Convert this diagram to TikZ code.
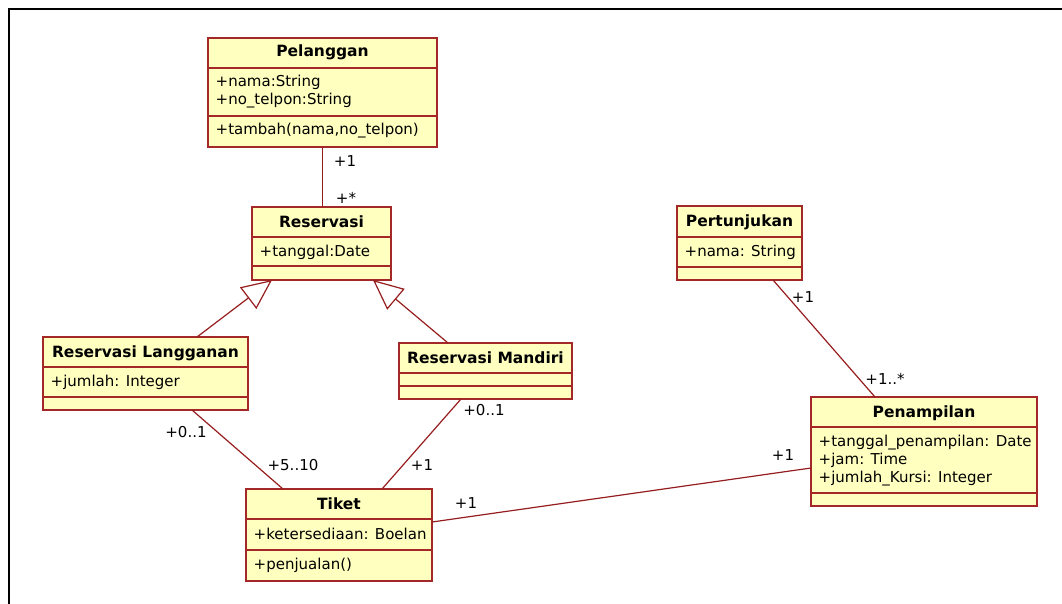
\documentclass[tikz,border=0pt]{standalone}
\usepackage{fontspec}
\setmainfont{DejaVu Sans}
\usetikzlibrary{arrows.meta}

\definecolor{boxfill}{RGB}{255,255,192}
\definecolor{boxedge}{RGB}{165,40,40}
\definecolor{linkred}{RGB}{150,30,30}

\tikzset{
  classbox/.style={draw=boxedge, fill=boxfill, line width=1.8pt, inner sep=0pt, outer sep=0pt},
  divider/.style={draw=boxedge, line width=1.5pt},
  ctitle/.style={font=\fontsize{15.5}{18}\selectfont\bfseries, anchor=base, inner sep=0pt},
  member/.style={font=\fontsize{15}{18}\selectfont, anchor=base west, inner sep=0pt},
  mult/.style={font=\fontsize{15}{18}\selectfont, inner sep=0pt},
  assoc/.style={draw=linkred, line width=1.2pt},
  generalize/.style={assoc, -{Triangle[length=30pt, width=27pt, fill=white]}},
  frameline/.style={draw=black, line width=2.8pt},
}

% a class rectangle: name, left, top, right, bottom
\newcommand{\umlclass}[5]{%
  \node[classbox, minimum width={(#4-#2)*1pt}, minimum height={(#5-#3)*1pt}]
    (#1) at ({(#2+#4)/2},{(#3+#5)/2}) {};}
% a compartment divider across a class: name, y
\newcommand{\umldiv}[2]{\draw[divider] (#1.west |- 0,#2) -- (#1.east |- 0,#2);}

\begin{document}
\begin{tikzpicture}[x=1pt, y=-1pt]
\useasboundingbox (0,0) rectangle (1062,604);
\fill[white] (0,0) rectangle (1062,604);

% window frame
\draw[frameline] (1062,9) -- (9,9) -- (9,604);

% Pelanggan
\umlclass{pel}{208}{38}{437}{147}
\umldiv{pel}{68}
\umldiv{pel}{116}
\node[ctitle] (pel-t) at (322.5,57) {Pelanggan};
\node[member] (pel-a1) at (215.5,87) {+nama:String};
\node[member] (pel-a2) at (215.5,105) {+no\_telpon:String};
\node[member] (pel-o1) at (215.5,135) {+tambah(nama,no\_telpon)};

% Reservasi
\umlclass{res}{252}{207}{391}{280}
\umldiv{res}{237}
\umldiv{res}{266}
\node[ctitle] (res-t) at (321.5,227) {Reservasi};
\node[member] (res-a1) at (259.5,256) {+tanggal:Date};

% Reservasi Langganan
\umlclass{rl}{43}{337}{248}{410}
\umldiv{rl}{367}
\umldiv{rl}{397}
\node[ctitle] (rl-t) at (145.5,357) {Reservasi Langganan};
\node[member] (rl-a1) at (50.5,386) {+jumlah: Integer};

% Reservasi Mandiri
\umlclass{rm}{399}{343}{572}{399}
\umldiv{rm}{373}
\umldiv{rm}{386}
\node[ctitle] (rm-t) at (485.5,363) {Reservasi Mandiri};

% Tiket
\umlclass{tik}{246}{489}{432}{581}
\umldiv{tik}{519}
\umldiv{tik}{550}
\node[ctitle] (tik-t) at (339,509) {Tiket};
\node[member] (tik-a1) at (253.5,539) {+ketersediaan: Boelan};
\node[member] (tik-o1) at (253.5,569) {+penjualan()};

% Pertunjukan
\umlclass{pert}{677}{206}{802}{280}
\umldiv{pert}{237}
\umldiv{pert}{267}
\node[ctitle] (pert-t) at (739.5,226) {Pertunjukan};
\node[member] (pert-a1) at (684.5,256) {+nama: String};

% Penampilan
\umlclass{pen}{811}{397}{1037}{506}
\umldiv{pen}{427}
\umldiv{pen}{493}
\node[ctitle] (pen-t) at (924,417) {Penampilan};
\node[member] (pen-a1) at (818.5,446) {+tanggal\_penampilan: Date};
\node[member] (pen-a2) at (818.5,464) {+jam: Time};
\node[member] (pen-a3) at (818.5,482) {+jumlah\_Kursi: Integer};

% associations
\draw[assoc] (pel.south) -- (pel.south |- res.north);
\draw[assoc] ([xshift=149pt]rl.south west) -- ([xshift=37pt]tik.north west);
\draw[assoc] ([xshift=62pt]rm.south west) -- ([xshift=136pt]tik.north west);
\draw[assoc] ([xshift=96pt]pert.south west) -- ([xshift=64pt]pen.north west);
\draw[assoc] ([yshift=-33pt]tik.north east) -- ([yshift=-71pt]pen.north west);

% generalizations
\draw[generalize] ([xshift=154pt]rl.north west) -- ([xshift=20pt]res.south west);
\draw[generalize] ([xshift=49pt]rm.north west) -- ([xshift=-18pt]res.south east);

% multiplicities
\node[mult] (m-pel) at (345,161) {+1};
\node[mult] (m-res) at (346,198) {+*};
\node[mult] (m-rl) at (186,432) {+0..1};
\node[mult] (m-tik1) at (293,465) {+5..10};
\node[mult] (m-tik2) at (422,465) {+1};
\node[mult] (m-rm) at (484,410) {+0..1};
\node[mult] (m-pert) at (803,297) {+1};
\node[mult] (m-pen1) at (885,379) {+1..*};
\node[mult] (m-pen2) at (783,455) {+1};
\node[mult] (m-tik3) at (466,503) {+1};
\end{tikzpicture}
\end{document}
